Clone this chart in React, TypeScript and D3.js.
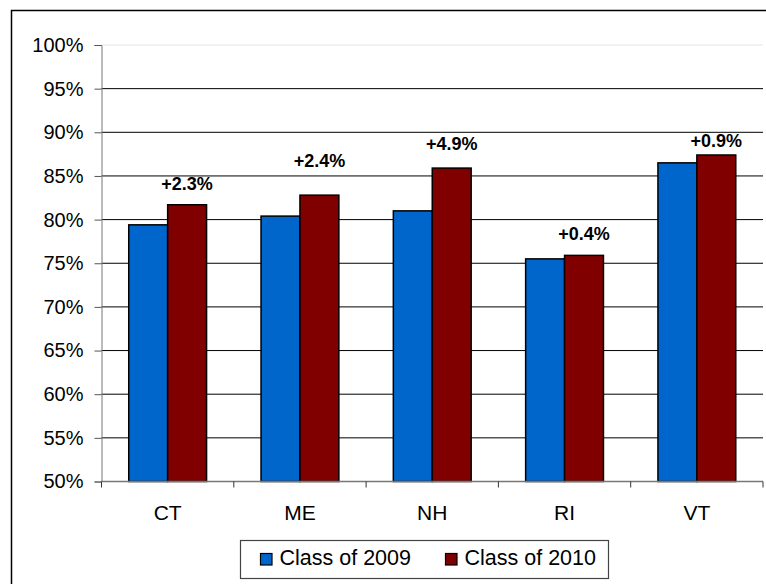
import React, { useRef, useEffect } from "react";
import { select, scaleLinear, scaleBand, axisLeft, range } from "d3";

const states = ["CT", "ME", "NH", "RI", "VT"];
const seriesNames = ["Class of 2009", "Class of 2010"];
const class2009 = [79.4, 80.4, 81.0, 75.5, 86.5];
const class2010 = [81.7, 82.8, 85.9, 75.9, 87.4];
const changeLabels = ["+2.3%", "+2.4%", "+4.9%", "+0.4%", "+0.9%"];
// where each change label sits, in percent on the value axis
const labelLevels = [83.4, 86.0, 88.0, 77.7, 88.3];
const yTicks = [50, 55, 60, 65, 70, 75, 80, 85, 90, 95, 100];
const colors = ["#0066CC", "#800000"];

const W = 766;
const H = 584;
const font = "'Liberation Sans', Arial, sans-serif";

const App = () => {
  const svgRef = useRef<SVGSVGElement>(null);

  useEffect(() => {
    const svg = select(svgRef.current);
    svg.selectAll("*").remove();

    const left = 101.5;
    const right = 763;
    const top = 45;
    const bottom = 481.5;

    const x = scaleBand().domain(states).range([left, right]).padding(0);
    const inner = scaleBand()
      .domain(seriesNames)
      .range([0, x.bandwidth()])
      .paddingInner(0)
      .paddingOuter(0.7);
    const y = scaleLinear().domain([50, 100]).range([bottom, top]);

    // outer frame (right and bottom edges fall outside the picture)
    svg
      .append("rect")
      .attr("x", 11.5)
      .attr("y", 10.5)
      .attr("width", 770)
      .attr("height", 600)
      .attr("fill", "#fff")
      .attr("stroke", "#000")
      .attr("stroke-width", 1.5);

    // gridlines
    svg
      .append("g")
      .selectAll("line")
      .data(yTicks.slice(1))
      .enter()
      .append("line")
      .attr("x1", left)
      .attr("x2", right)
      .attr("y1", (d) => y(d))
      .attr("y2", (d) => y(d))
      .attr("stroke", (d) => (d === 100 ? "#e6e6e6" : "#000"))
      .attr("stroke-width", 1);

    // y axis
    const yAxis = axisLeft(y)
      .tickValues(yTicks)
      .tickSize(7)
      .tickPadding(11)
      .tickFormat((d) => `${d}%`);
    const gy = svg.append("g").attr("transform", `translate(${left},0)`).call(yAxis);
    gy.select(".domain").attr("stroke", "#777");
    gy.selectAll(".tick line").attr("stroke", "#555");
    gy.selectAll("text")
      .attr("font-family", font)
      .attr("font-size", 20)
      .attr("fill", "#000");

    // bars
    const series = [class2009, class2010];
    series.forEach((vals, si) => {
      svg
        .append("g")
        .selectAll("rect")
        .data(vals)
        .enter()
        .append("rect")
        .attr("x", (d, i) => (x(states[i]) as number) + (inner(seriesNames[si]) as number))
        .attr("y", (d) => y(d))
        .attr("width", inner.bandwidth())
        .attr("height", (d) => bottom - y(d))
        .attr("fill", colors[si])
        .attr("stroke", "#000")
        .attr("stroke-width", 1.5);
    });

    // x axis line and category ticks
    svg
      .append("line")
      .attr("x1", left)
      .attr("x2", right)
      .attr("y1", bottom)
      .attr("y2", bottom)
      .attr("stroke", "#777")
      .attr("stroke-width", 1.5);
    svg
      .append("g")
      .selectAll("line")
      .data(range(states.length + 1))
      .enter()
      .append("line")
      .attr("x1", (i) => left + i * x.step())
      .attr("x2", (i) => left + i * x.step())
      .attr("y1", bottom)
      .attr("y2", bottom + 6)
      .attr("stroke", "#333");

    svg
      .append("g")
      .selectAll("text")
      .data(states)
      .enter()
      .append("text")
      .attr("x", (d) => (x(d) as number) + x.bandwidth() / 2)
      .attr("y", 519.5)
      .attr("text-anchor", "middle")
      .attr("font-family", font)
      .attr("font-size", 21)
      .text((d) => d);

    // change labels
    svg
      .append("g")
      .selectAll("text")
      .data(changeLabels)
      .enter()
      .append("text")
      .attr("x", (d, i) => (x(states[i]) as number) + (inner(seriesNames[1]) as number) + inner.bandwidth() / 2)
      .attr("y", (d, i) => y(labelLevels[i]))
      .attr("text-anchor", "middle")
      .attr("font-family", font)
      .attr("font-weight", "bold")
      .attr("font-size", 18)
      .text((d) => d);

    // legend
    const legend = svg.append("g");
    legend
      .append("rect")
      .attr("x", 240.5)
      .attr("y", 540.5)
      .attr("width", 368)
      .attr("height", 38)
      .attr("fill", "#fff")
      .attr("stroke", "#444")
      .attr("stroke-width", 1.2);
    const legendX = [260, 445];
    seriesNames.forEach((name, i) => {
      legend
        .append("rect")
        .attr("x", legendX[i] + 0.5)
        .attr("y", 553.5)
        .attr("width", 11.5)
        .attr("height", 11.5)
        .attr("fill", colors[i])
        .attr("stroke", "#000")
        .attr("stroke-width", 1.2);
      legend
        .append("text")
        .attr("x", legendX[i] + 19.5)
        .attr("y", 564.5)
        .attr("font-family", font)
        .attr("font-size", 21.5)
        .text(name);
    });
  }, []);

  return (
    <svg
      ref={svgRef}
      width={W}
      height={H}
      style={{ position: "absolute", left: 0, top: 0, background: "#fff" }}
    />
  );
};

export default App;
